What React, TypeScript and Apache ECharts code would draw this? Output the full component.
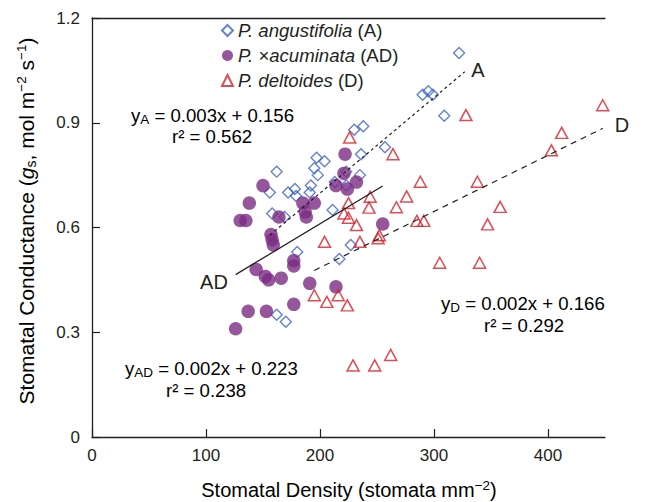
import React, { useEffect, useRef } from 'react';
import * as echarts from 'echarts';

const seriesNames = ['P. angustifolia (A)', 'P. ×acuminata (AD)', 'P. deltoides (D)'];

const angustifolia: number[][] = [
  [162, 0.76], [156, 0.70], [172, 0.70], [178, 0.71], [179, 0.69], [191, 0.70], [192, 0.72],
  [195, 0.77], [197, 0.80], [198, 0.75], [204, 0.79], [213, 0.73], [211, 0.65], [158, 0.64],
  [169, 0.63], [180, 0.53], [217, 0.51], [162, 0.35], [170, 0.33], [223, 0.76], [223, 0.72],
  [227, 0.55], [230, 0.88], [238, 0.89], [257, 0.83], [236, 0.81], [235, 0.75], [290, 0.98],
  [295, 0.99], [299, 0.98], [309, 0.92], [322, 1.10],
];

const acuminata: number[][] = [
  [126, 0.31], [137, 0.36], [153, 0.36], [177, 0.38], [144, 0.48], [152, 0.46], [155, 0.45],
  [166, 0.455], [177, 0.505], [177, 0.49], [191, 0.44], [214, 0.43], [130, 0.62], [135, 0.62],
  [138, 0.67], [150, 0.72], [157, 0.58], [158, 0.565], [159, 0.55], [164, 0.63], [185, 0.67],
  [187, 0.645], [188, 0.63], [195, 0.67], [214, 0.72], [221, 0.755], [222, 0.81], [224, 0.71],
  [232, 0.73], [255, 0.61],
];

const deltoides: number[][] = [
  [226, 0.858], [264, 0.81], [288, 0.731], [276, 0.689], [244, 0.688], [225, 0.67], [267, 0.658],
  [243, 0.657], [221, 0.64], [225, 0.628], [232, 0.607], [285, 0.619], [291, 0.619], [347, 0.609],
  [358, 0.659], [338, 0.731], [252, 0.578], [251, 0.569], [235, 0.559], [204, 0.559], [305, 0.499],
  [340, 0.499], [195, 0.406], [206, 0.387], [216, 0.406], [224, 0.377], [229, 0.205], [248, 0.205],
  [262, 0.235], [328, 0.922], [448, 0.95], [412, 0.871], [403, 0.821],
];

const fitA: number[][] = [[156, 0.578], [327, 1.046]];
const fitAD: number[][] = [[126, 0.465], [255, 0.719]];
const fitD: number[][] = [[195, 0.477], [448, 0.884]];

const xTicks = [0, 100, 200, 300, 400];
const yTicks = [0, 0.3, 0.6, 0.9, 1.2];

const FONT = '"Liberation Sans", Arial, Helvetica, sans-serif';
const INK = '#231f20';
const BLUE = '#3d64c0';
const PURPLE = '#7b2c83';
const RED = '#d4202a';

export default function App() {
  const ref = useRef<HTMLDivElement>(null);

  useEffect(() => {
    const chart = echarts.init(ref.current!, null, { renderer: 'svg' });

    const base = { fontFamily: FONT, color: INK };
    const richEq = {
      b: { ...base, fontSize: 18.6, lineHeight: 22 },
      sub: { ...base, fontSize: 13.5, lineHeight: 13, verticalAlign: 'bottom' },
      sup: { ...base, fontSize: 12, lineHeight: 12, verticalAlign: 'top' },
      i: { ...base, fontSize: 21, lineHeight: 24, fontStyle: 'italic' },
      t: { ...base, fontSize: 20, lineHeight: 24 },
      ty: { ...base, fontSize: 21, lineHeight: 24 },
      isub: { ...base, fontSize: 14, lineHeight: 14, verticalAlign: 'bottom' },
      tsup: { ...base, fontSize: 13.5, lineHeight: 13, verticalAlign: 'top' },
    };

    const eq = (x: number, y: number, text: string) => ({
      type: 'text', x, y,
      style: { text, rich: richEq, verticalAlign: 'middle', align: 'left', fontFamily: FONT },
    });

    const option: any = {
      animation: false,
      grid: { left: 92, right: 44, top: 18, bottom: 65 },
      legend: {
        orient: 'vertical', left: 221, top: 18, padding: 0, itemGap: 0,
        itemWidth: 11, itemHeight: 11,
        data: seriesNames,
        formatter: (name: string) => {
          const m = name.match(/^(.*) (\(.*\))$/);
          return m ? `{i|${m[1]}} {n|${m[2]}}` : name;
        },
        textStyle: {
          fontFamily: FONT, fontSize: 18.6, color: INK, lineHeight: 25,
          rich: {
            i: { fontFamily: FONT, fontSize: 18.6, color: INK, fontStyle: 'italic' },
            n: { fontFamily: FONT, fontSize: 18.6, color: INK },
          },
        },
      },
      xAxis: [
        {
          type: 'value', min: 0, max: 450, interval: 100,
          axisLine: { show: true, onZero: false, lineStyle: { color: INK, width: 1.3 } },
          axisTick: { show: true, inside: true, length: 8, customValues: xTicks, lineStyle: { color: INK, width: 1.2 } },
          axisLabel: { fontFamily: FONT, fontSize: 17, color: INK, margin: 10, customValues: xTicks },
          splitLine: { show: false },
        },
        {
          type: 'value', position: 'top', min: 0, max: 450,
          axisLine: { show: true, onZero: false, lineStyle: { color: INK, width: 1.3 } },
          axisTick: { show: false }, axisLabel: { show: false }, splitLine: { show: false },
        },
      ],
      yAxis: {
        type: 'value', min: 0, max: 1.2, interval: 0.3,
        axisLine: { show: true, onZero: false, lineStyle: { color: INK, width: 1.3 } },
        axisTick: { show: true, inside: true, length: 8, customValues: yTicks, lineStyle: { color: INK, width: 1.2 } },
        axisLabel: {
          fontFamily: FONT, fontSize: 17, color: INK, margin: 12, customValues: yTicks,
          formatter: (v: number) => (v === 0 ? '0' : v.toFixed(1)),
        },
        splitLine: { show: false },
      },
      series: [
        {
          name: seriesNames[0], type: 'scatter', data: angustifolia, symbol: 'diamond', symbolSize: 11,
          itemStyle: { color: 'rgba(255,255,255,0)', borderColor: BLUE, borderWidth: 1.4 },
          z: 3,
        },
        {
          name: seriesNames[1], type: 'scatter', data: acuminata, symbol: 'circle', symbolSize: 13.5,
          itemStyle: { color: PURPLE, borderWidth: 0 },
          z: 4,
        },
        {
          name: seriesNames[2], type: 'scatter', data: deltoides, symbol: 'triangle', symbolSize: [12, 11],
          itemStyle: { color: 'rgba(255,255,255,0)', borderColor: RED, borderWidth: 1.5 },
          z: 5,
        },
        {
          name: 'fitA', type: 'line', data: fitA, symbol: 'none', silent: true, z: 6,
          lineStyle: { color: INK, width: 1.2, type: [3, 3] },
        },
        {
          name: 'fitAD', type: 'line', data: fitAD, symbol: 'none', silent: true, z: 6,
          lineStyle: { color: INK, width: 1.3, type: 'solid' },
        },
        {
          name: 'fitD', type: 'line', data: fitD, symbol: 'none', silent: true, z: 6,
          lineStyle: { color: INK, width: 1.2, type: [6, 5] },
        },
      ],
      graphic: [
        eq(131, 115, '{b|y}{sub|A}{b| = 0.003x + 0.156}'),
        eq(172, 136, '{b|r² = 0.562}'),
        eq(125, 368, '{b|y}{sub|AD}{b| = 0.002x + 0.223}'),
        eq(166, 390, '{b|r² = 0.238}'),
        eq(441, 303, '{b|y}{sub|D}{b| = 0.002x + 0.166}'),
        eq(484, 325, '{b|r² = 0.292}'),
        { type: 'text', x: 214, y: 282, style: { text: 'AD', fontFamily: FONT, fontSize: 20, fill: INK, align: 'center', verticalAlign: 'middle' } },
        { type: 'text', x: 478, y: 70, style: { text: 'A', fontFamily: FONT, fontSize: 20, fill: INK, align: 'center', verticalAlign: 'middle' } },
        { type: 'text', x: 622, y: 125, style: { text: 'D', fontFamily: FONT, fontSize: 20, fill: INK, align: 'center', verticalAlign: 'middle' } },
        {
          type: 'text', x: 349, y: 490,
          style: {
            text: '{t|Stomatal Density (stomata mm}{tsup|−2}{t|)}', rich: richEq,
            align: 'center', verticalAlign: 'middle', fontFamily: FONT,
          },
        },
        {
          type: 'text', x: 26, y: 221, rotation: Math.PI / 2,
          style: {
            text: '{ty|Stomatal Conductance (}{i|g}{isub|s}{ty|, mol m}{tsup|−2}{ty| s}{tsup|−1}{ty|)}', rich: richEq,
            align: 'center', verticalAlign: 'middle', fontFamily: FONT,
          },
        },
      ],
    };

    chart.setOption(option);
    return () => chart.dispose();
  }, []);

  return <div ref={ref} style={{ position: 'absolute', left: 0, top: 0, width: 649, height: 502 }} />;
}
